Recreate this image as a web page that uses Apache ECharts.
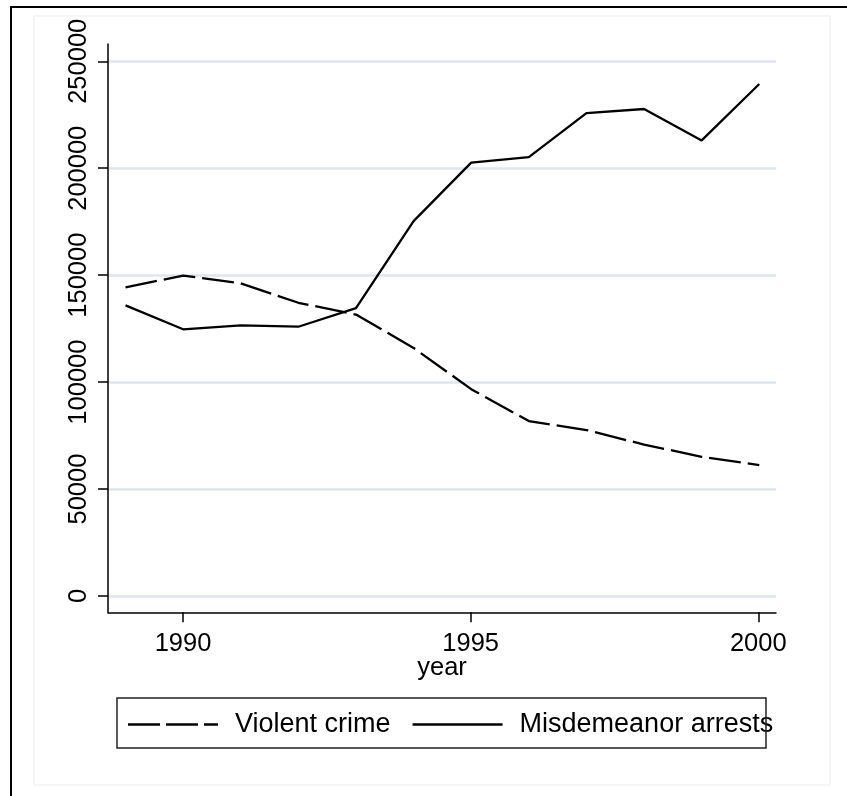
<!DOCTYPE html>
<html>
<head>
<meta charset="utf-8">
<script src="https://cdn.jsdelivr.net/npm/echarts@6/dist/echarts.min.js"></script>
<style>
html,body{margin:0;padding:0;background:#fff;}
#chart{width:847px;height:796px;}
</style>
</head>
<body>
<div id="chart"></div>
<script>
// ---- data ----
var years = [1989, 1990, 1991, 1992, 1993, 1994, 1995, 1996, 1997, 1998, 1999, 2000];
var violentCrime = [144300, 149800, 146200, 137100, 131600, 116000, 96700, 81800, 77600, 70800, 65100, 61200];
var misdemeanorArrests = [135900, 124700, 126500, 125900, 134600, 175300, 202600, 205200, 225800, 227700, 213000, 239400];
var seriesNames = ['Violent crime', 'Misdemeanor arrests'];
var xTickYears = [1990, 1995, 2000];
var yTicks = [0, 50000, 100000, 150000, 200000, 250000];
var xTitle = 'year';

var FONT = '"Liberation Sans", Arial, Helvetica, sans-serif';

function pairs(xs, ys) { return xs.map(function (x, i) { return [x, ys[i]]; }); }
function plain(v) { return String(Math.round(v)); }

// legend key shapes (90 x 2.5 units)
var dashedKey = 'path://M0,0h32v2.5h-32zM38,0h32v2.5h-32zM76,0h14v2.5h-14z';
var solidKey = 'path://M0,0h90v2.5h-90z';

var chart = echarts.init(document.getElementById('chart'), null, { renderer: 'canvas' });

var option = {
  animation: false,
  backgroundColor: '#ffffff',
  textStyle: { fontFamily: FONT },
  graphic: [
    { type: 'rect', silent: true, z: -10,
      shape: { x: 34, y: 16, width: 796, height: 769 },
      style: { fill: 'none', stroke: '#ededf2', lineWidth: 1 } },
    { type: 'rect', silent: true, z: 10,
      shape: { x: 11, y: 7, width: 900, height: 900 },
      style: { fill: 'none', stroke: '#000', lineWidth: 2 } },
    { type: 'rect', silent: true, z: 10,
      shape: { x: 117, y: 698, width: 649, height: 50 },
      style: { fill: 'none', stroke: '#222', lineWidth: 1.5 } }
  ],
  grid: [
    { left: 108, right: 71, top: 61.3, bottom: 200 },      // data + y ticks + gridlines
    { left: 108, right: 71, top: 44, bottom: 183.7 },      // axis lines
    { left: 183, right: 88.7, top: 44, bottom: 183.7 }     // x ticks
  ],
  xAxis: [
    { gridIndex: 0, type: 'value', min: 1988.696, max: 2000.29, show: false },
    { gridIndex: 1, type: 'value', min: 0, max: 1,
      axisLine: { show: true, lineStyle: { color: '#000', width: 1.5 } },
      axisTick: { show: false }, axisLabel: { show: false }, splitLine: { show: false },
      name: xTitle, nameLocation: 'middle', nameGap: 42.5,
      nameTextStyle: { color: '#000', fontSize: 25.5, fontFamily: FONT } },
    { gridIndex: 2, type: 'value', min: xTickYears[0], max: xTickYears[xTickYears.length - 1], interval: 5,
      axisLine: { show: false },
      axisTick: { show: true, length: 10, inside: false, lineStyle: { color: '#000', width: 1.5 } },
      axisLabel: { show: true, margin: 19, color: '#000', fontSize: 25.5, fontFamily: FONT, formatter: plain },
      splitLine: { show: false } }
  ],
  yAxis: [
    { gridIndex: 0, type: 'value', min: yTicks[0], max: yTicks[yTicks.length - 1], interval: 50000,
      axisLine: { show: false },
      axisTick: { show: true, length: 10, inside: false, lineStyle: { color: '#000', width: 1.5 } },
      axisLabel: { show: true, rotate: 90, margin: 16, color: '#000', fontSize: 25.5, fontFamily: FONT, formatter: plain },
      splitLine: { show: true, lineStyle: { color: '#dfe4ee', width: 2.5 } } },
    { gridIndex: 1, type: 'value', min: 0, max: 1,
      axisLine: { show: true, lineStyle: { color: '#000', width: 1.5 } },
      axisTick: { show: false }, axisLabel: { show: false }, splitLine: { show: false } },
    { gridIndex: 2, type: 'value', min: 0, max: 1, show: false }
  ],
  legend: {
    show: true,
    left: 128, top: 711,
    padding: 0,
    itemWidth: 90, itemHeight: 2.5, itemGap: 22,
    symbolKeepAspect: false,
    itemStyle: { color: '#000', borderWidth: 0 },
    textStyle: { color: '#000', fontSize: 27, fontFamily: FONT, padding: [0, 0, 0, 12] },
    data: [
      { name: seriesNames[0], icon: dashedKey },
      { name: seriesNames[1], icon: solidKey }
    ]
  },
  series: [
    { name: seriesNames[0], type: 'line', xAxisIndex: 0, yAxisIndex: 0,
      data: pairs(years, violentCrime), symbol: 'none', smooth: false,
      lineStyle: { color: '#000', width: 2.3, type: [32, 7] }, itemStyle: { color: '#000' } },
    { name: seriesNames[1], type: 'line', xAxisIndex: 0, yAxisIndex: 0,
      data: pairs(years, misdemeanorArrests), symbol: 'none', smooth: false,
      lineStyle: { color: '#000', width: 2.3, type: 'solid' }, itemStyle: { color: '#000' } }
  ]
};
chart.setOption(option);
</script>
</body>
</html>
